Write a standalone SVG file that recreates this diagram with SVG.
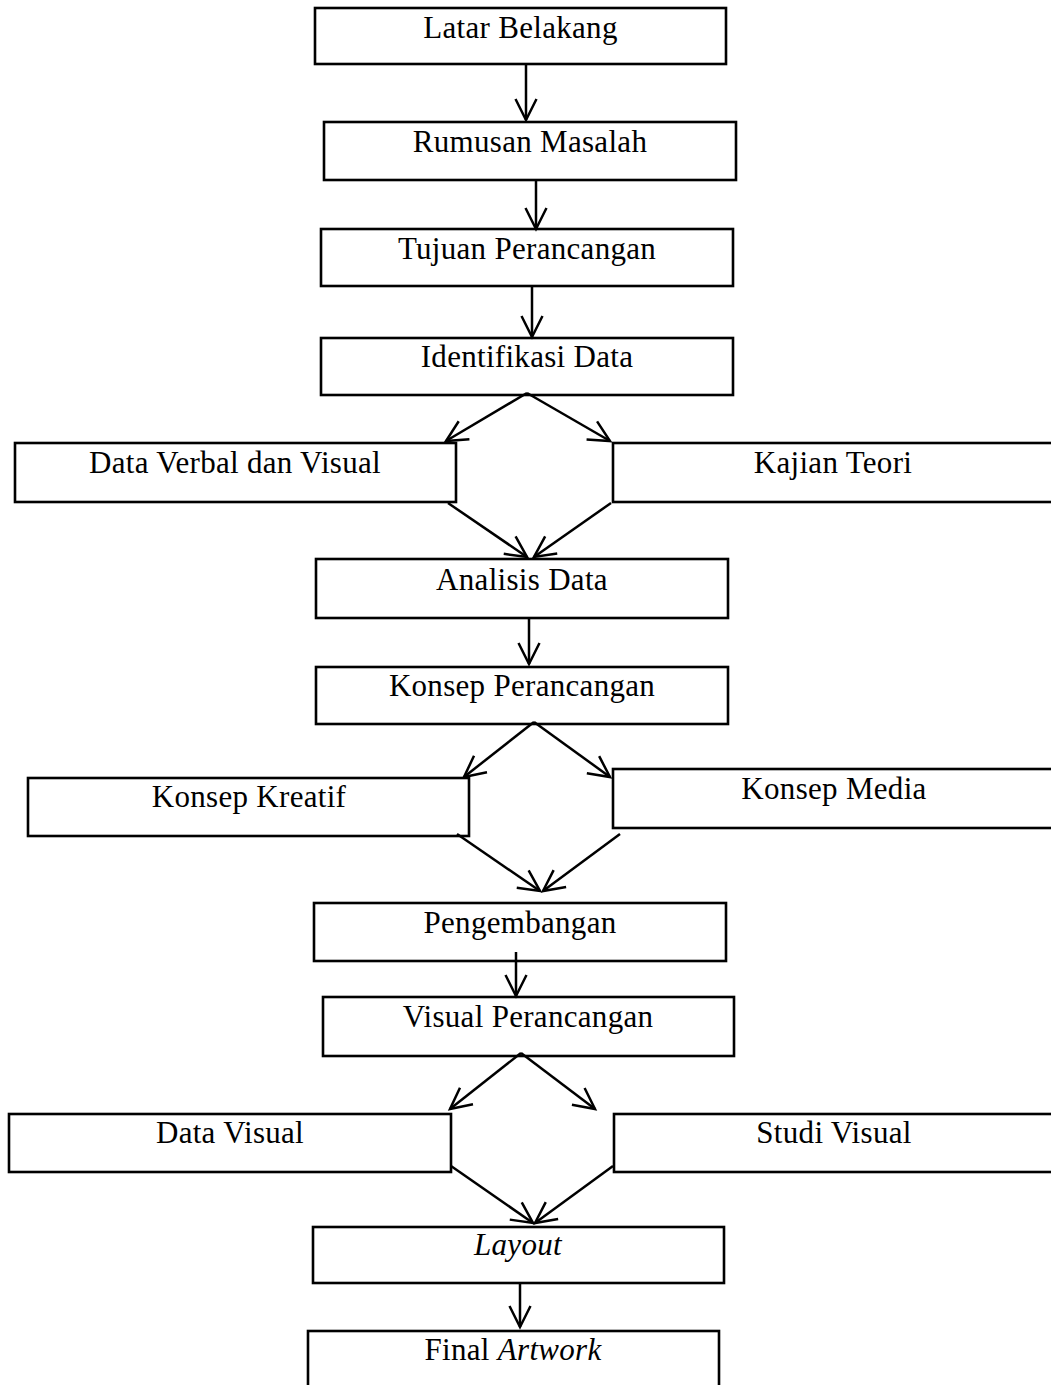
<svg xmlns="http://www.w3.org/2000/svg" width="1051" height="1385" viewBox="0 0 1051 1385">
<style>
.box{fill:#fff;stroke:#000;stroke-width:2.6}
.lbl{font-family:"Liberation Serif","Times New Roman",serif;font-size:31px;letter-spacing:0.3px;fill:#000;text-anchor:middle}
.conn line{stroke:#000;stroke-width:2.5;marker-end:url(#ah)}
</style>
<defs>
<marker id="ah" markerUnits="userSpaceOnUse" orient="auto" refX="0" refY="0" markerWidth="30" markerHeight="30" overflow="visible">
<path d="M-21,-10.5 L0,0 L-21,10.5" fill="none" stroke="#000" stroke-width="2.5"/>
</marker>
</defs>
<rect width="1051" height="1385" fill="#fff"/>
<g id="n1"><rect class="box" x="315" y="8" width="411" height="56"/><text class="lbl" x="520.5" y="38">Latar Belakang</text></g>
<g id="n2"><rect class="box" x="324" y="122" width="412" height="58"/><text class="lbl" x="530" y="152">Rumusan Masalah</text></g>
<g id="n3"><rect class="box" x="321" y="229" width="412" height="57"/><text class="lbl" x="527" y="259">Tujuan Perancangan</text></g>
<g id="n4"><rect class="box" x="321" y="338" width="412" height="57"/><text class="lbl" x="527" y="367">Identifikasi Data</text></g>
<g id="n5"><rect class="box" x="15" y="443" width="441" height="59"/><text class="lbl" x="235" y="473">Data Verbal dan Visual</text></g>
<g id="n6"><rect class="box" x="613" y="443" width="442" height="59"/><text class="lbl" x="833" y="473">Kajian Teori</text></g>
<g id="n7"><rect class="box" x="316" y="559" width="412" height="59"/><text class="lbl" x="522" y="590">Analisis Data</text></g>
<g id="n8"><rect class="box" x="316" y="667" width="412" height="57"/><text class="lbl" x="522" y="696">Konsep Perancangan</text></g>
<g id="n9"><rect class="box" x="28" y="778" width="441" height="58"/><text class="lbl" x="249" y="807">Konsep Kreatif</text></g>
<g id="n10"><rect class="box" x="613" y="769" width="442" height="59"/><text class="lbl" x="834" y="799">Konsep Media</text></g>
<g id="n11"><rect class="box" x="314" y="903" width="412" height="58"/><text class="lbl" x="520" y="933">Pengembangan</text></g>
<g id="n12"><rect class="box" x="323" y="997" width="411" height="59"/><text class="lbl" x="528" y="1027">Visual Perancangan</text></g>
<g id="n13"><rect class="box" x="9" y="1114" width="442" height="58"/><text class="lbl" x="230" y="1143">Data Visual</text></g>
<g id="n14"><rect class="box" x="614" y="1114" width="442" height="58"/><text class="lbl" x="834" y="1143">Studi Visual</text></g>
<g id="n15"><rect class="box" x="313" y="1227" width="411" height="56"/><text class="lbl" x="518" y="1255" font-style="italic">Layout</text></g>
<g id="n16"><rect class="box" x="308" y="1331" width="411" height="70"/><text class="lbl" x="513" y="1360">Final <tspan font-style="italic">Artwork</tspan></text></g>
<g id="connectors" class="conn">
<line x1="526" y1="64" x2="526" y2="120"/>
<line x1="536" y1="180" x2="536" y2="229"/>
<line x1="532" y1="286" x2="532" y2="337"/>
<line x1="527" y1="393" x2="446" y2="441"/>
<line x1="527" y1="393" x2="610" y2="441"/>
<line x1="448" y1="503" x2="527" y2="557"/>
<line x1="611" y1="503" x2="534" y2="557"/>
<line x1="529" y1="618" x2="529" y2="664"/>
<line x1="534" y1="722" x2="464" y2="777"/>
<line x1="534" y1="722" x2="610" y2="777"/>
<line x1="457" y1="834" x2="540" y2="891"/>
<line x1="620" y1="834" x2="543" y2="891"/>
<line x1="516" y1="952" x2="516" y2="996"/>
<line x1="521" y1="1053" x2="450" y2="1109"/>
<line x1="521" y1="1053" x2="595" y2="1109"/>
<line x1="451" y1="1166" x2="533" y2="1223"/>
<line x1="613" y1="1166" x2="535" y2="1223"/>
<line x1="520" y1="1283" x2="520" y2="1327"/>
</g>
</svg>
